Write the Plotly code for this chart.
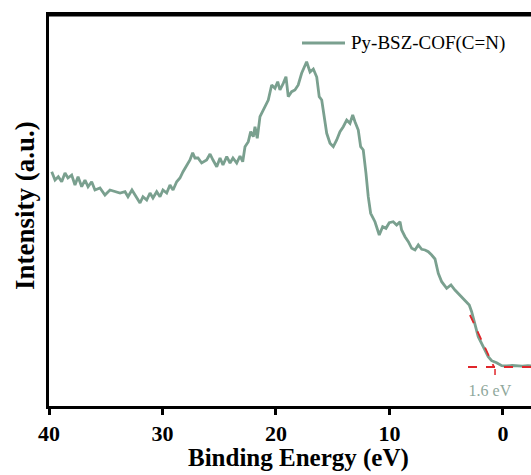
import plotly.graph_objects as go

# Binding energy (eV) and intensity (a.u.)
energy = [39.76, 39.47, 39.18, 38.88, 38.59, 38.33, 38.00, 37.71, 37.44, 37.12,
          36.83, 36.56, 36.24, 35.95, 35.51, 35.07, 34.63, 34.19, 33.74, 33.30,
          33.04, 32.69, 32.27, 31.98, 31.72, 31.39, 31.10, 30.84, 30.51, 30.22,
          29.96, 29.63, 29.34, 29.07, 28.75, 28.46, 28.19, 27.87, 27.58, 27.34,
          27.14, 26.87, 26.55, 26.11, 25.81, 25.55, 25.22, 24.93, 24.67, 24.34,
          24.05, 23.79, 23.46, 23.17, 22.93, 22.73, 22.44, 22.23, 22.00, 21.85,
          21.65, 21.41, 21.12, 20.88, 20.68, 20.38, 20.09, 19.85, 19.65, 19.36,
          19.12, 18.92, 18.62, 18.33, 18.04, 17.74, 17.53, 17.30, 17.00, 16.71,
          16.41, 16.19, 15.97, 15.77, 15.53, 15.24, 14.95, 14.65, 14.36, 14.07,
          13.77, 13.48, 13.24, 13.04, 12.75, 12.54, 12.31, 12.07, 11.87, 11.66,
          11.28, 10.90, 10.60, 10.31, 10.02, 9.67, 9.37, 9.07, 8.93, 8.63,
          8.34, 8.04, 7.75, 7.46, 7.16, 6.87, 6.58, 6.28, 5.99, 5.70,
          5.40, 4.96, 4.58, 4.23, 3.79, 3.35, 2.97, 2.76, 2.47, 2.18,
          1.74, 1.30, 1.00, 0.56, 0.11, -0.33, -0.80, -1.21, -1.70, -2.20, -2.47]
intensity = [205.3, 197, 200.3, 195.3, 204, 199, 202, 192, 200.3, 190.3,
             197, 190.3, 195.3, 187, 189, 182, 187, 185.3, 184, 185.3,
             180.3, 187, 179, 174, 180.3, 177, 184, 179, 185.3, 180.3,
             187, 184, 192, 187, 195.3, 199, 205.3, 212, 217, 224.3,
             219, 219, 214, 217, 223, 217, 210.3, 219, 212, 220.3,
             214, 219, 214, 221, 215.3, 230.3, 235.3, 245.3, 240.3, 250.3,
             238.7, 260.3, 267, 273.7, 277, 292, 288.7, 295.3, 287, 293.7,
             300.3, 280.3, 285.3, 287, 292, 303.7, 308.7, 315.3, 305, 308,
             300, 280.3, 277, 263.7, 243.7, 233.7, 230.3, 237, 245.3, 250.3,
             257, 253.7, 262, 255.3, 247, 230.3, 227, 203.7, 180.3, 163.7,
             155.3, 142, 150.3, 148.7, 154.3, 155.3, 152, 155.3, 147, 140.3,
             135.3, 128.7, 127, 132, 127.7, 127, 125.3, 122, 118, 103.7,
             95.3, 88.7, 92, 87, 82, 77, 72, 65.3, 52, 40.3,
             30.3, 20.3, 16.3, 14.3, 11.3, 11, 11.5, 11, 10.8, 11.3, 11]

# Onset extrapolation lines
tangent_e = [2.91, 0.79]
tangent_i = [62, 10]
base_e = [3.08, -2.47]
base_i = [10, 10]
onset_mark_e = [0.70, 0.70]
onset_mark_i = [8, 2]
onset_label = "1.6 eV"
series_name = "Py-BSZ-COF(C=N)"
x_ticks = [40, 30, 20, 10, 0]
x_range = [40, -2.47]
y_range = [-29, 362]

line_color = "#7aa08f"
red = "#e0262b"
font_fam = "Liberation Serif, Times New Roman, serif"

fig = go.Figure()
fig.add_trace(go.Scatter(x=energy, y=intensity, mode="lines",
                         line=dict(color=line_color, width=2.8), name=series_name,
                         showlegend=False))
fig.add_trace(go.Scatter(x=tangent_e, y=tangent_i, mode="lines",
                         line=dict(color=red, width=1.8, dash="dash"), showlegend=False))
fig.add_trace(go.Scatter(x=base_e, y=base_i, mode="lines",
                         line=dict(color=red, width=1.8, dash="dash"), showlegend=False))
fig.add_trace(go.Scatter(x=onset_mark_e, y=onset_mark_i, mode="lines",
                         line=dict(color=red, width=1.5), showlegend=False))
fig.add_trace(go.Scatter(x=[1.15], y=[-15], mode="text", text=[onset_label],
                         textfont=dict(family=font_fam, size=16, color="#8fa89c"),
                         cliponaxis=False, showlegend=False, hoverinfo="skip"))

# top frame line
fig.add_shape(type="line", xref="paper", yref="paper", x0=0, x1=1, y0=1, y1=1,
              line=dict(color="black", width=3))

# legend (manual)
fig.add_shape(type="line", xref="paper", yref="paper",
              x0=(302 - 49) / 482, x1=(345 - 49) / 482,
              y0=(406 - 43) / 391, y1=(406 - 43) / 391,
              line=dict(color=line_color, width=2.8))
fig.add_annotation(xref="paper", yref="paper", x=(349 - 49) / 482, y=(406 - 43) / 391,
                   xanchor="left", yanchor="middle", text=series_name, showarrow=False,
                   font=dict(family=font_fam, size=19, color="black"))

# axis titles
fig.add_annotation(xref="paper", yref="paper", x=(298 - 49) / 482, y=(406 - 458) / 391,
                   xanchor="center", yanchor="middle", text="<b>Binding Energy (eV)</b>",
                   showarrow=False, font=dict(family=font_fam, size=25, color="black"))
fig.add_annotation(xref="paper", yref="paper", x=(25 - 49) / 482, y=(406 - 206) / 391,
                   xanchor="center", yanchor="middle", text="<b>Intensity (a.u.)</b>",
                   textangle=-90, showarrow=False,
                   font=dict(family=font_fam, size=27, color="black"))

fig.update_layout(
    width=531, height=475, autosize=False,
    margin=dict(l=49, r=0, t=15, b=69),
    paper_bgcolor="white", plot_bgcolor="white",
    xaxis=dict(range=x_range, tickvals=x_ticks, ticktext=[f"<b>{t}</b>" for t in x_ticks],
               ticks="outside", ticklen=6, tickwidth=2.5, tickcolor="black",
               showline=True, linewidth=2.5, linecolor="black", mirror=True,
               showgrid=False, zeroline=False,
               tickfont=dict(family=font_fam, size=22, color="black")),
    yaxis=dict(range=y_range, showticklabels=False, ticks="",
               showline=True, linewidth=2.5, linecolor="black", mirror=False,
               showgrid=False, zeroline=False),
)

fig.write_html("out.html", config={"displayModeBar": False})
